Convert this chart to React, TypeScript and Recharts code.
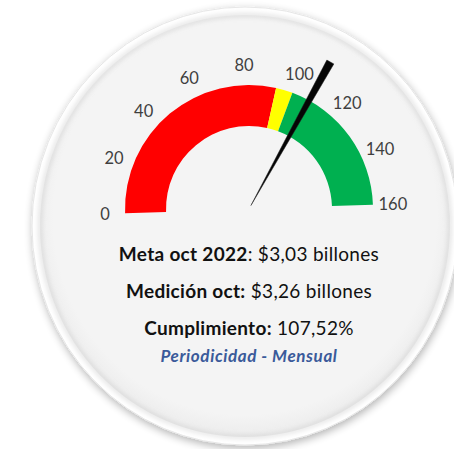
import React from 'react';
import { RadialBarChart, RadialBar, PolarAngleAxis, PolarRadiusAxis, PieChart, Pie, Cell } from 'recharts';

// gauge bands (0-160 scale)
const categorias = ['Cumplimiento'];
const rojo = [93];
const amarillo = [7];
const verde = [60];
const escalaTicks = [0, 20, 40, 60, 80, 100, 120, 140, 160];
const escalaMax = 160;
const cumplimiento = 107.52;

const meta = '$3,03 billones';
const medicion = '$3,26 billones';
const cumplimientoTexto = '107,52%';

const data = categorias.map((name, i) => ({ name, rojo: rojo[i], amarillo: amarillo[i], verde: verde[i] }));
const agujaData = [
  { name: 'valor', value: cumplimiento },
  { name: 'resto', value: escalaMax - cumplimiento },
];

const W = 454;
const H = 449;
const CX = 249;
const CY = 209;
const START = 182;
const END = 2;
const FONT = 'Lato, "Open Sans", sans-serif';

const Tick = (props: any) => {
  const { x, y, payload } = props;
  return (
    <text x={x} y={y} dy="0.35em" textAnchor="middle" fontFamily={FONT} fontSize={16.5} fill="#3f3f3f">
      {payload.value}
    </text>
  );
};

const RAD = Math.PI / 180;

const renderAguja = (props: any) => {
  if (props.index !== 0) return null;
  const { cx, cy, endAngle } = props;
  const a = endAngle * RAD;
  const dx = Math.cos(a);
  const dy = -Math.sin(a);
  const px = -dy;
  const py = dx;
  const largo = 168;
  const tx = cx + dx * largo;
  const ty = cy + dy * largo;
  const bx = cx + dx * 4;
  const by = cy + dy * 4;
  const w = 4;
  const pts = `${tx + px * w},${ty + py * w} ${tx - px * w},${ty - py * w} ${bx},${by}`;
  return <polygon points={pts} fill="#050505" stroke="#222" strokeWidth={0.5} />;
};

export default function App() {
  return (
    <div style={{ position: 'absolute', left: 0, top: 0, width: W, height: H, background: '#fff' }}>
      <svg width={W} height={H} style={{ position: 'absolute', left: 0, top: 0 }}>
        <defs>
          <filter id="sombra" x="-10%" y="-10%" width="120%" height="120%">
            <feGaussianBlur in="SourceAlpha" stdDeviation="4" />
            <feOffset dx="1" dy="3" result="b" />
            <feComponentTransfer>
              <feFuncA type="linear" slope="0.3" />
            </feComponentTransfer>
            <feMerge>
              <feMergeNode />
              <feMergeNode in="SourceGraphic" />
            </feMerge>
          </filter>
          <filter id="interior" x="-5%" y="-5%" width="110%" height="110%">
            <feGaussianBlur stdDeviation="2.5" />
          </filter>
          <radialGradient id="cara" cx="50%" cy="48%" r="52%">
            <stop offset="90%" stopColor="#f4f4f4" />
            <stop offset="100%" stopColor="#ececec" />
          </radialGradient>
        </defs>
        <ellipse cx={245} cy={226} rx={213} ry={219} fill="#ffffff" stroke="#e6e6e6" strokeWidth={1} filter="url(#sombra)" />
        <ellipse cx={245} cy={226} rx={205} ry={211} fill="url(#cara)" />
        <ellipse cx={245} cy={226} rx={205} ry={211} fill="none" stroke="#c8c8c8" strokeWidth={2} filter="url(#interior)" />
        <g fontFamily={FONT} fill="#111" textAnchor="middle" letterSpacing={0.3}>
          <text x={249} y={261} fontSize={19}>
            <tspan fontWeight={700}>Meta oct 2022</tspan>
            <tspan>: {meta}</tspan>
          </text>
          <text x={249} y={298} fontSize={19}>
            <tspan fontWeight={700}>Medición oct:</tspan>
            <tspan> {medicion}</tspan>
          </text>
          <text x={249} y={335} fontSize={19}>
            <tspan fontWeight={700}>Cumplimiento:</tspan>
            <tspan> {cumplimientoTexto}</tspan>
          </text>
          <text x={249} y={362} fontSize={17} fontWeight={700} fontStyle="italic" fill="#3a5a9a" letterSpacing={0.6}>
            Periodicidad - Mensual
          </text>
        </g>
      </svg>

      <div style={{ position: 'absolute', left: 0, top: 0 }}>
        <RadialBarChart
          width={W}
          height={H}
          cx={CX}
          cy={CY}
          innerRadius={83}
          outerRadius={124}
          startAngle={START}
          endAngle={END}
          data={data}
          barCategoryGap={0}
          margin={{ top: 0, right: 0, bottom: 0, left: 0 }}
        >
          <PolarAngleAxis
            type="number"
            domain={[0, escalaMax]}
            ticks={escalaTicks}
            axisLine={false}
            tickLine={false}
            tickSize={20}
            tick={<Tick />}
          />
          <PolarRadiusAxis type="category" dataKey="name" tick={false} axisLine={false} />
          <RadialBar dataKey="rojo" stackId="g" fill="#ff0000" isAnimationActive={false} />
          <RadialBar dataKey="amarillo" stackId="g" fill="#ffff00" isAnimationActive={false} />
          <RadialBar dataKey="verde" stackId="g" fill="#00b050" isAnimationActive={false} />
        </RadialBarChart>
      </div>

      <div style={{ position: 'absolute', left: 0, top: 0 }}>
        <PieChart width={W} height={H} margin={{ top: 0, right: 0, bottom: 0, left: 0 }}>
          <Pie
            data={agujaData}
            dataKey="value"
            cx={CX}
            cy={CY}
            startAngle={START}
            endAngle={END}
            innerRadius={0}
            outerRadius={124}
            stroke="none"
            label={renderAguja}
            labelLine={false}
            isAnimationActive={false}
          >
            {agujaData.map((d) => (
              <Cell key={d.name} fill="transparent" />
            ))}
          </Pie>
        </PieChart>
      </div>
    </div>
  );
}
